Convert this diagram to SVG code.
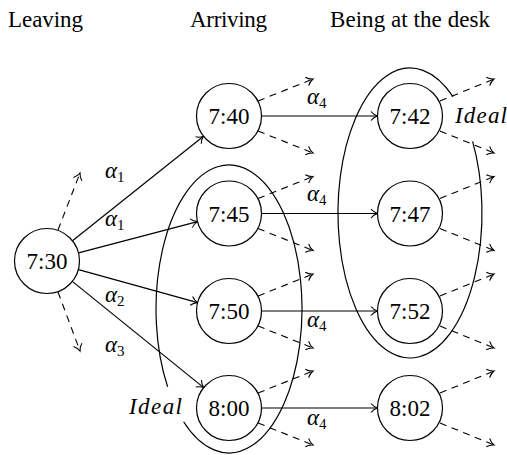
<svg xmlns="http://www.w3.org/2000/svg" width="507" height="455" viewBox="0 0 507 455">
<defs>
<marker id="to" markerUnits="userSpaceOnUse" viewBox="-10 -6 12 12" markerWidth="12" markerHeight="12" refX="0" refY="0" orient="auto">
<path d="M -6.5,-4.5 C -4.5,-2 -1.5,-0.5 0,0 C -1.5,0.5 -4.5,2 -6.5,4.5" fill="none" stroke="#000" stroke-width="1.1"/>
</marker>
</defs>
<g id="headers" fill="#000">
<text font-family="Liberation Serif" font-size="23" x="8" y="27" textLength="75">Leaving</text>
<text font-family="Liberation Serif" font-size="23" x="190" y="27" textLength="77">Arriving</text>
<text font-family="Liberation Serif" font-size="23" x="330" y="27" textLength="160">Being at the desk</text>
</g>
<g id="sets">
<path fill="none" stroke="#000" stroke-width="1.2" d="M 167.6,386.8 A 73 144 0 1 1 183.6,421.7"/>
<path fill="none" stroke="#000" stroke-width="1.2" d="M 472.6,141.4 A 72 145 0 1 1 453,96.7"/>
<text font-family="Liberation Serif" font-size="23" font-style="italic" x="129" y="414" textLength="53">Ideal</text>
<text font-family="Liberation Serif" font-size="23" font-style="italic" x="455" y="123" textLength="52">Ideal</text>
</g>
<g id="connectors" fill="none" stroke="#000" stroke-width="1.2" marker-end="url(#to)">
<line x1="72.5" y1="240.8" x2="203.5" y2="136.3"/>
<line x1="78.5" y1="252.9" x2="197.5" y2="221.6"/>
<line x1="78.5" y1="269.6" x2="197.7" y2="302.6"/>
<line x1="72.3" y1="281.4" x2="203.7" y2="387.6"/>
<line x1="261.5" y1="116" x2="377.5" y2="116"/>
<line x1="261.5" y1="213.5" x2="377.5" y2="213.5"/>
<line x1="261.5" y1="311" x2="377.5" y2="311"/>
<line x1="261.5" y1="408" x2="377.5" y2="408"/>
<g stroke-width="1.1" stroke-dasharray="7 5.5">
<line x1="58" y1="230" x2="80" y2="173"/>
<line x1="58" y1="292" x2="80" y2="351"/>
<line x1="258" y1="101" x2="313" y2="79"/>
<line x1="258" y1="131" x2="313" y2="153"/>
<line x1="258" y1="198.5" x2="313" y2="176.5"/>
<line x1="258" y1="228.5" x2="313" y2="250.5"/>
<line x1="258" y1="296" x2="313" y2="274"/>
<line x1="258" y1="326" x2="313" y2="348"/>
<line x1="258" y1="393" x2="313" y2="371"/>
<line x1="258" y1="423" x2="313" y2="445"/>
<line x1="440" y1="101" x2="494" y2="79"/>
<line x1="440" y1="131" x2="494" y2="153"/>
<line x1="440" y1="198.5" x2="494" y2="176.5"/>
<line x1="440" y1="228.5" x2="494" y2="250.5"/>
<line x1="440" y1="296" x2="494" y2="274"/>
<line x1="440" y1="326" x2="494" y2="348"/>
<line x1="440" y1="393" x2="494" y2="371"/>
<line x1="440" y1="423" x2="494" y2="445"/>
</g>
</g>
<g id="labels" fill="#000">
<text font-family="Liberation Serif" font-size="23" font-style="italic" x="105" y="178">α<tspan font-size="15" font-style="normal" dy="4">1</tspan></text>
<text font-family="Liberation Serif" font-size="23" font-style="italic" x="105" y="226">α<tspan font-size="15" font-style="normal" dy="4">1</tspan></text>
<text font-family="Liberation Serif" font-size="23" font-style="italic" x="105" y="302">α<tspan font-size="15" font-style="normal" dy="4">2</tspan></text>
<text font-family="Liberation Serif" font-size="23" font-style="italic" x="105" y="352">α<tspan font-size="15" font-style="normal" dy="4">3</tspan></text>
<text font-family="Liberation Serif" font-size="23" font-style="italic" x="307" y="104">α<tspan font-size="15" font-style="normal" dy="4">4</tspan></text>
<text font-family="Liberation Serif" font-size="23" font-style="italic" x="307" y="201">α<tspan font-size="15" font-style="normal" dy="4">4</tspan></text>
<text font-family="Liberation Serif" font-size="23" font-style="italic" x="307" y="327">α<tspan font-size="15" font-style="normal" dy="4">4</tspan></text>
<text font-family="Liberation Serif" font-size="23" font-style="italic" x="307" y="425">α<tspan font-size="15" font-style="normal" dy="4">4</tspan></text>
</g>
<g id="n730"><circle cx="47" cy="261" r="32.5" fill="#fff" stroke="#000" stroke-width="1.2"/><text font-family="Liberation Serif" font-size="23" text-anchor="middle" x="47" y="269">7:30</text></g>
<g id="n740"><circle cx="229" cy="116" r="32.5" fill="#fff" stroke="#000" stroke-width="1.2"/><text font-family="Liberation Serif" font-size="23" text-anchor="middle" x="229" y="124">7:40</text></g>
<g id="n745"><circle cx="229" cy="213.5" r="32.5" fill="#fff" stroke="#000" stroke-width="1.2"/><text font-family="Liberation Serif" font-size="23" text-anchor="middle" x="229" y="221.5">7:45</text></g>
<g id="n750"><circle cx="229" cy="311" r="32.5" fill="#fff" stroke="#000" stroke-width="1.2"/><text font-family="Liberation Serif" font-size="23" text-anchor="middle" x="229" y="319">7:50</text></g>
<g id="n800"><circle cx="229" cy="408" r="32.5" fill="#fff" stroke="#000" stroke-width="1.2"/><text font-family="Liberation Serif" font-size="23" text-anchor="middle" x="229" y="416">8:00</text></g>
<g id="n742"><circle cx="410" cy="116" r="32.5" fill="#fff" stroke="#000" stroke-width="1.2"/><text font-family="Liberation Serif" font-size="23" text-anchor="middle" x="410" y="124">7:42</text></g>
<g id="n747"><circle cx="410" cy="213.5" r="32.5" fill="#fff" stroke="#000" stroke-width="1.2"/><text font-family="Liberation Serif" font-size="23" text-anchor="middle" x="410" y="221.5">7:47</text></g>
<g id="n752"><circle cx="410" cy="311" r="32.5" fill="#fff" stroke="#000" stroke-width="1.2"/><text font-family="Liberation Serif" font-size="23" text-anchor="middle" x="410" y="319">7:52</text></g>
<g id="n802"><circle cx="410" cy="408" r="32.5" fill="#fff" stroke="#000" stroke-width="1.2"/><text font-family="Liberation Serif" font-size="23" text-anchor="middle" x="410" y="416">8:02</text></g>
</svg>
